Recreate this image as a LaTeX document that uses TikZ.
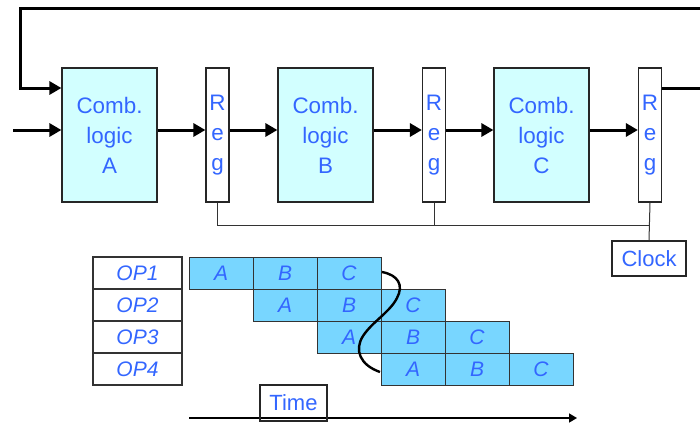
\documentclass[tikz,border=0pt]{standalone}
\usepackage{fontspec}
\setmainfont{Liberation Sans}
\usetikzlibrary{arrows.meta}

\definecolor{txtblue}{RGB}{51,102,255}
\definecolor{logicfill}{RGB}{210,255,255}
\definecolor{cellfill}{RGB}{120,214,255}

\tikzset{
  logic/.style={shape=rectangle,draw=black!85,fill=logicfill,line width=0.6pt,minimum width=47.5pt,minimum height=67pt,inner sep=0pt,align=center,text=txtblue,font=\fontsize{11.2}{15}\selectfont},
  reg/.style={shape=rectangle,draw=black!85,fill=white,line width=0.6pt,minimum width=11.5pt,minimum height=67pt,inner sep=0pt,align=center,text=txtblue,font=\fontsize{11.2}{15}\selectfont},
  opbox/.style={shape=rectangle,draw=black!80,line width=0.6pt,minimum width=44.5pt,minimum height=16pt,inner sep=0pt,text=txtblue,font=\fontsize{10.5}{12}\selectfont\itshape},
  cell/.style={shape=rectangle,draw=black!80,fill=cellfill,line width=0.5pt,minimum width=32pt,minimum height=16pt,inner sep=0pt,text=txtblue,font=\fontsize{10.5}{12}\selectfont\itshape},
  label/.style={shape=rectangle,draw=black!85,line width=0.6pt,inner sep=0pt,text=txtblue,font=\fontsize{11}{13}\selectfont},
  bus/.style={line width=1.5pt,-{Triangle[length=6pt,width=6.5pt]}},
  wire/.style={line width=0.5pt,draw=black!80},
}

\begin{document}
\begin{tikzpicture}[x=0.5pt,y=-0.5pt]

	\useasboundingbox (0,0) rectangle (700,423);

	% pipeline stages
	\node[logic] (combA) at (109.5,135) {Comb.\\logic\\A};
	\node[reg]   (regA)  at (217.5,135) {R\\e\\g};
	\node[logic] (combB) at (325.5,135) {Comb.\\logic\\B};
	\node[reg]   (regB)  at (434,135)   {R\\e\\g};
	\node[logic] (combC) at (541.5,135) {Comb.\\logic\\C};
	\node[reg]   (regC)  at (650,135)   {R\\e\\g};

	\node[label,minimum width=37pt,minimum height=17.5pt] (clock) at (649,258.5) {Clock};

	\coordinate (in)   at (13,130);
	\coordinate (fbR)  at (706,88);
	\coordinate (fbTR) at (706,8);
	\coordinate (fbTL) at (20,8);
	\coordinate (fbL)  at (20,88);
	\coordinate (clk)  at (0,225);

	% data path
	\draw[bus] (in) -- (combA.west |- in);
	\draw[bus] (combA.east |- in) -- (regA.west |- in);
	\draw[bus] (regA.east |- in) -- (combB.west |- in);
	\draw[bus] (combB.east |- in) -- (regB.west |- in);
	\draw[bus] (regB.east |- in) -- (combC.west |- in);
	\draw[bus] (combC.east |- in) -- (regC.west |- in);

	% feedback
	\draw[bus] (regC.east |- fbR) -- (fbR) -- (fbTR) -- (fbTL) -- (fbL) -- (combA.west |- fbL);

	% clock lines
	\draw[wire] (regA.south) |- (regC.south |- clk);
	\draw[wire] (regB.south) -- (regB.south |- clk);
	\draw[wire] (regC.south) -- (clock.north);

	% operations
	\node[opbox] (op1) at (137.5,273) {OP1};
	\node[opbox] (op2) at (137.5,305) {OP2};
	\node[opbox] (op3) at (137.5,337) {OP3};
	\node[opbox] (op4) at (137.5,369) {OP4};

	\node[cell] (a1) at (221,273) {A};
	\node[cell] (b1) at (285,273) {B};
	\node[cell] (c1) at (349,273) {C};
	\node[cell] (a2) at (285,305) {A};
	\node[cell] (b2) at (349,305) {B};
	\node[cell] (c2) at (413,305) {C};
	\node[cell] (a3) at (349,337) {A};
	\node[cell] (b3) at (413,337) {B};
	\node[cell] (c3) at (477,337) {C};
	\node[cell] (a4) at (413,369) {A};
	\node[cell] (b4) at (477,369) {B};
	\node[cell] (c4) at (541,369) {C};

	% wave
	\draw[line width=1.2pt] (382,272) .. controls (398,275) and (404,285) .. (397,298)
		.. controls (390,312) and (372,322) .. (363,336)
		.. controls (354,350) and (360,365) .. (380,372);

	% time axis
	\coordinate (t0) at (189,418);
	\coordinate (t1) at (577,418);
	\draw[line width=0.8pt,-{Triangle[length=4pt,width=4.5pt]}] (t0) -- (t1);
	\node[label,minimum width=33.5pt,minimum height=18pt] (time) at (293.5,403) {Time};

\end{tikzpicture}
\end{document}
